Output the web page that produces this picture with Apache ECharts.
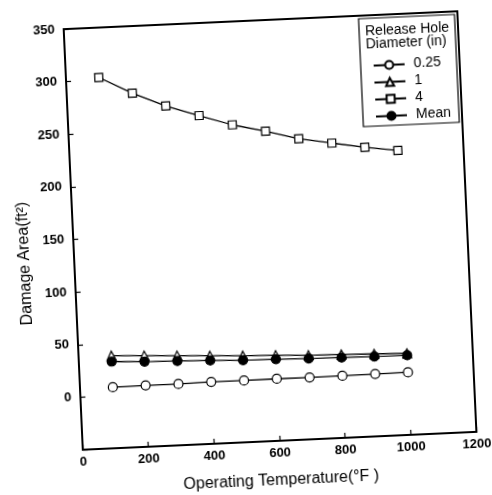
<!DOCTYPE html>
<html><head><meta charset="utf-8">
<script src="https://cdn.jsdelivr.net/npm/echarts/dist/echarts.min.js"></script>
<style>
html,body{margin:0;padding:0;background:#fff;overflow:hidden;}
#c{width:492px;height:495px;transform:rotate(-2.6deg);transform-origin:270px 229.5px;}
</style>
</head><body><div id="c"></div>
<script>
const temps = [100, 200, 300, 400, 500, 600, 700, 800, 900, 1000];
const hole025 = [8.0, 8.4, 8.3, 8.8, 8.7, 9.0, 8.8, 9.0, 9.3, 9.5];
const hole1 = [38.0, 36.6, 35.2, 33.7, 32.3, 31.4, 29.9, 29.2, 28.4, 27.5];
const hole4 = [302.7, 286.2, 272.7, 262.1, 251.9, 244.4, 235.8, 230.3, 225.0, 220.4];
const holeMean = [32.4, 30.9, 30.1, 29.2, 28.1, 27.6, 26.8, 26.3, 25.8, 25.6];
const seriesNames = ['0.25', '1', '4', 'Mean'];
const legendTitle = 'Release Hole\nDiameter (in)';
const xName = 'Operating Temperature(\u00B0F )';
const yName = 'Damage Area(ft\u00B2)';

const FONT = "'Liberation Sans', Arial, sans-serif";
const pair = arr => temps.map((t, i) => [t, arr[i]]);

function mk(name, data, symbol, size, fill, z) {
  return {
    name, type: 'line', data: pair(data), symbol, symbolSize: size,
    showSymbol: true, z: z,
    lineStyle: { color: '#000', width: 1.3 },
    itemStyle: { color: fill, borderColor: '#000', borderWidth: 1.2 },
    emphasis: { disabled: true }, animation: false
  };
}

const chart = echarts.init(document.getElementById('c'), null, { renderer: 'canvas' });
chart.setOption({
  backgroundColor: '#fff',
  animation: false,
  textStyle: { fontFamily: FONT },
  grid: { left: 73, right: 25, top: 20, bottom: 54, show: true, borderColor: '#000', borderWidth: 2 },
  title: {
    text: legendTitle, left: 374, top: 30, padding: 0, z: 20,
    textStyle: { fontFamily: FONT, fontSize: 14, fontWeight: 'normal', lineHeight: 13, color: '#000' }
  },
  legend: {
    data: seriesNames, orient: 'vertical', left: 368, top: 23,
    padding: [39, 8, 1, 12], itemWidth: 31, itemHeight: 10, itemGap: 0,
    borderColor: '#000', borderWidth: 1.2, backgroundColor: '#fff',
    textStyle: { fontFamily: FONT, fontSize: 14, color: '#000', lineHeight: 17, padding: [0, 0, 0, 4] },
    selectedMode: false, z: 10
  },
  xAxis: {
    type: 'value', min: 0, max: 1200, interval: 200,
    name: xName, nameLocation: 'middle', nameGap: 32,
    nameTextStyle: { fontFamily: FONT, fontSize: 16, color: '#000' },
    axisLine: { show: true, onZero: false, lineStyle: { color: '#000', width: 2 } },
    axisTick: { show: true, inside: true, length: 5, lineStyle: { color: '#000', width: 1.2 } },
    axisLabel: { fontFamily: FONT, fontSize: 13, fontWeight: 'bold', color: '#000', margin: 6,
      showMinLabel: true, showMaxLabel: true, formatter: v => String(v) },
    splitLine: { show: false }
  },
  yAxis: {
    type: 'value', min: -50, max: 350, interval: 50,
    name: yName, nameLocation: 'middle', nameGap: 41, nameRotate: 90,
    nameTextStyle: { fontFamily: FONT, fontSize: 16, color: '#000', padding: [0, 44, 0, 0] },
    axisLine: { show: true, onZero: false, lineStyle: { color: '#000', width: 2 } },
    axisTick: { show: true, inside: true, length: 5, lineStyle: { color: '#000', width: 1.2 } },
    axisLabel: { fontFamily: FONT, fontSize: 13, fontWeight: 'bold', color: '#000', margin: 9,
      formatter: v => (v === -50 ? '' : String(v)) },
    splitLine: { show: false }
  },
  series: [
    mk('0.25', hole025, 'circle', 9, '#fff', 2),
    mk('1', hole1, 'triangle', 9, '#fff', 2),
    mk('4', hole4, 'rect', 8, '#fff', 2),
    mk('Mean', holeMean, 'circle', 9, '#000', 3)
  ]
});
</script>
</body></html>
